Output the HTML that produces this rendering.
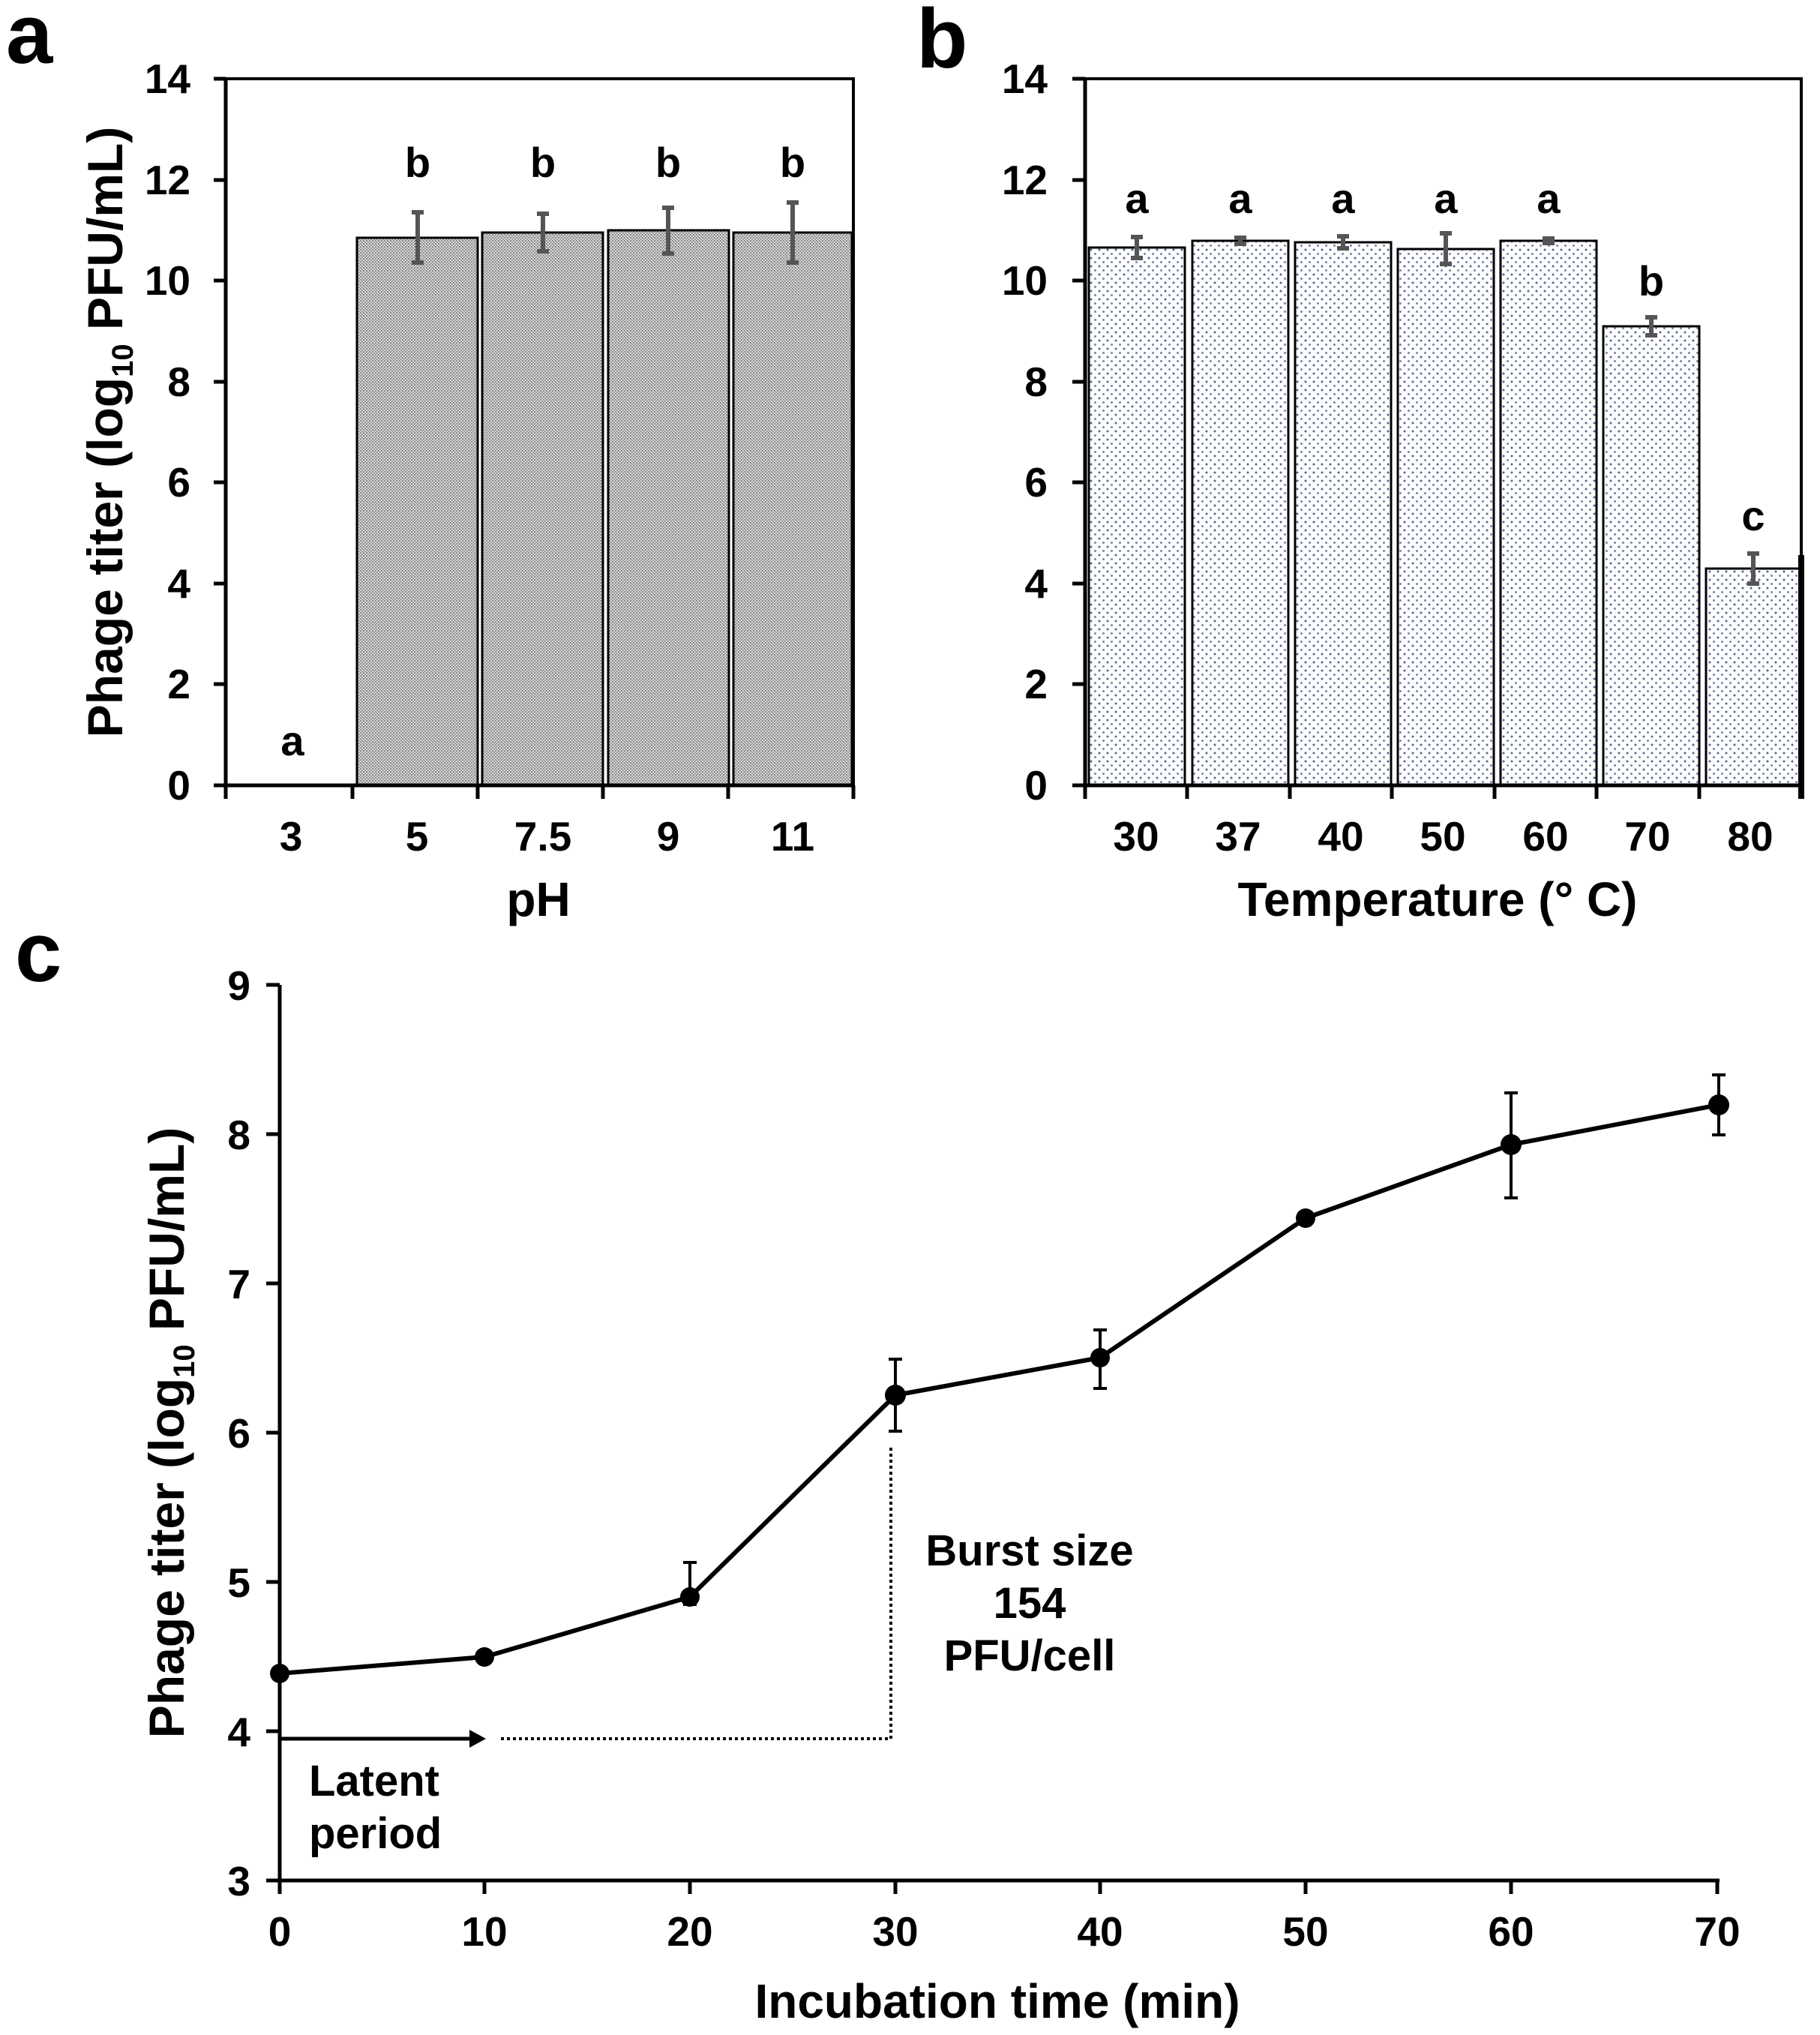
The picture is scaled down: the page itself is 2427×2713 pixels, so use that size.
<!DOCTYPE html>
<html><head><meta charset="utf-8"><style>html,body{margin:0;padding:0;background:#fff}svg{display:block}text{font-family:"Liberation Sans",Arial,sans-serif;font-weight:bold;fill:#000}</style></head>
<body>
<svg width="2427" height="2713" viewBox="0 0 2427 2713" xmlns="http://www.w3.org/2000/svg">
<defs>
<pattern id="pg" width="4" height="4" patternUnits="userSpaceOnUse"><rect width="4" height="4" fill="#d6d6d6"/><rect x="0" y="0" width="2" height="2" fill="#8a8a8a"/><rect x="2" y="2" width="2" height="2" fill="#9a9a9a"/></pattern>
<pattern id="pb" width="11" height="11" patternUnits="userSpaceOnUse"><rect width="11" height="11" fill="#fdfdff"/><circle cx="3" cy="3" r="1.5" fill="#56688f"/><circle cx="8.5" cy="8.5" r="1.5" fill="#7888a8"/></pattern>
</defs>

<!-- Panel a -->
<text x="8" y="84" font-size="112">a</text>
<rect x="301" y="105" width="837" height="942" fill="none" stroke="#000" stroke-width="4"/>
<g fill="url(#pg)" stroke="#000" stroke-width="3">
<rect x="476" y="317" width="161" height="730"/>
<rect x="643" y="310" width="161" height="737"/>
<rect x="811" y="307" width="161" height="740"/>
<rect x="978" y="310" width="158" height="737"/>
</g>
<g stroke="#000" stroke-width="5">
<line x1="285" y1="1047" x2="1138" y2="1047"/>
<line x1="301" y1="105" x2="301" y2="1047"/>
<line x1="301" y1="1047" x2="301" y2="1065"/><line x1="470" y1="1047" x2="470" y2="1065"/><line x1="637" y1="1047" x2="637" y2="1065"/><line x1="804" y1="1047" x2="804" y2="1065"/><line x1="971" y1="1047" x2="971" y2="1065"/><line x1="1138" y1="1047" x2="1138" y2="1065"/>
<line x1="285" y1="105" x2="301" y2="105"/><line x1="285" y1="240" x2="301" y2="240"/><line x1="285" y1="374" x2="301" y2="374"/><line x1="285" y1="509" x2="301" y2="509"/><line x1="285" y1="643" x2="301" y2="643"/><line x1="285" y1="778" x2="301" y2="778"/><line x1="285" y1="912" x2="301" y2="912"/>
</g>
<g stroke="#555" stroke-width="6">
<line x1="557" y1="283" x2="557" y2="350"/><line x1="549" y1="283" x2="565" y2="283"/><line x1="549" y1="350" x2="565" y2="350"/>
<line x1="724" y1="285" x2="724" y2="335"/><line x1="716" y1="285" x2="732" y2="285"/><line x1="716" y1="335" x2="732" y2="335"/>
<line x1="891" y1="277" x2="891" y2="338"/><line x1="883" y1="277" x2="899" y2="277"/><line x1="883" y1="338" x2="899" y2="338"/>
<line x1="1057" y1="270" x2="1057" y2="350"/><line x1="1049" y1="270" x2="1065" y2="270"/><line x1="1049" y1="350" x2="1065" y2="350"/>
</g>
<g font-size="55" text-anchor="end">
<text x="254" y="1066">0</text><text x="254" y="931">2</text><text x="254" y="797">4</text><text x="254" y="662">6</text><text x="254" y="528">8</text><text x="254" y="393">10</text><text x="254" y="259">12</text><text x="254" y="124">14</text>
</g>
<g font-size="55" text-anchor="middle">
<text x="388" y="1134">3</text><text x="556" y="1134">5</text><text x="724" y="1134">7.5</text><text x="891" y="1134">9</text><text x="1057" y="1134">11</text>
<text x="718" y="1221" font-size="64">pH</text>
</g>
<g font-size="56" text-anchor="middle">
<text x="390" y="1007">a</text><text x="557" y="236">b</text><text x="724" y="236">b</text><text x="891" y="236">b</text><text x="1057" y="236">b</text>
</g>
<text transform="translate(163,576) rotate(-90)" font-size="66" text-anchor="middle">Phage titer (log<tspan font-size="40" dy="14">10</tspan><tspan dy="-14"> PFU/mL)</tspan></text>

<!-- Panel b -->
<text x="1222" y="90" font-size="112">b</text>
<rect x="1447" y="105" width="955" height="942" fill="none" stroke="#000" stroke-width="4"/>
<g fill="url(#pb)" stroke="#000" stroke-width="3">
<rect x="1452" y="330" width="128" height="717"/>
<rect x="1590" y="321" width="128" height="726"/>
<rect x="1727" y="323" width="128" height="724"/>
<rect x="1864" y="332" width="128" height="715"/>
<rect x="2001" y="321" width="128" height="726"/>
<rect x="2138" y="435" width="128" height="612"/>
<rect x="2275" y="758" width="126" height="289"/>
</g>
<g stroke="#000" stroke-width="5">
<line x1="1430" y1="1047" x2="2402" y2="1047"/>
<line x1="1447" y1="105" x2="1447" y2="1047"/>
<line x1="2402" y1="740" x2="2402" y2="1065" stroke-width="8"/>
<line x1="1447" y1="1047" x2="1447" y2="1065"/><line x1="1583" y1="1047" x2="1583" y2="1065"/><line x1="1720" y1="1047" x2="1720" y2="1065"/><line x1="1856" y1="1047" x2="1856" y2="1065"/><line x1="1993" y1="1047" x2="1993" y2="1065"/><line x1="2129" y1="1047" x2="2129" y2="1065"/><line x1="2266" y1="1047" x2="2266" y2="1065"/>
<line x1="1430" y1="105" x2="1447" y2="105"/><line x1="1430" y1="240" x2="1447" y2="240"/><line x1="1430" y1="374" x2="1447" y2="374"/><line x1="1430" y1="509" x2="1447" y2="509"/><line x1="1430" y1="643" x2="1447" y2="643"/><line x1="1430" y1="778" x2="1447" y2="778"/><line x1="1430" y1="912" x2="1447" y2="912"/>
</g>
<g stroke="#555" stroke-width="6">
<line x1="1516" y1="316" x2="1516" y2="344"/><line x1="1508" y1="316" x2="1524" y2="316"/><line x1="1508" y1="344" x2="1524" y2="344"/>
<line x1="1654" y1="317" x2="1654" y2="325"/><line x1="1646" y1="317" x2="1662" y2="317"/><line x1="1646" y1="325" x2="1662" y2="325"/>
<line x1="1791" y1="315" x2="1791" y2="331"/><line x1="1783" y1="315" x2="1799" y2="315"/><line x1="1783" y1="331" x2="1799" y2="331"/>
<line x1="1928" y1="311" x2="1928" y2="352"/><line x1="1920" y1="311" x2="1936" y2="311"/><line x1="1920" y1="352" x2="1936" y2="352"/>
<line x1="2065" y1="318" x2="2065" y2="324"/><line x1="2057" y1="318" x2="2073" y2="318"/><line x1="2057" y1="324" x2="2073" y2="324"/>
<line x1="2202" y1="423" x2="2202" y2="447"/><line x1="2194" y1="423" x2="2210" y2="423"/><line x1="2194" y1="447" x2="2210" y2="447"/>
<line x1="2338" y1="738" x2="2338" y2="778"/><line x1="2330" y1="738" x2="2346" y2="738"/><line x1="2330" y1="778" x2="2346" y2="778"/>
</g>
<g font-size="55" text-anchor="end">
<text x="1397" y="1066">0</text><text x="1397" y="931">2</text><text x="1397" y="797">4</text><text x="1397" y="662">6</text><text x="1397" y="528">8</text><text x="1397" y="393">10</text><text x="1397" y="259">12</text><text x="1397" y="124">14</text>
</g>
<g font-size="55" text-anchor="middle">
<text x="1515" y="1134">30</text><text x="1651" y="1134">37</text><text x="1788" y="1134">40</text><text x="1924" y="1134">50</text><text x="2061" y="1134">60</text><text x="2197" y="1134">70</text><text x="2334" y="1134">80</text>
<text x="1917" y="1221" font-size="64">Temperature (° C)</text>
</g>
<g font-size="56" text-anchor="middle">
<text x="1516" y="284">a</text><text x="1654" y="284">a</text><text x="1791" y="284">a</text><text x="1928" y="284">a</text><text x="2065" y="284">a</text><text x="2202" y="394">b</text><text x="2338" y="707">c</text>
</g>

<!-- Panel c -->
<text x="20" y="1308" font-size="112">c</text>
<g stroke="#000" stroke-width="5">
<line x1="373" y1="1313" x2="373" y2="2525"/>
<line x1="355" y1="2507" x2="2293" y2="2507"/>
<line x1="355" y1="1313" x2="373" y2="1313"/><line x1="355" y1="1512" x2="373" y2="1512"/><line x1="355" y1="1711" x2="373" y2="1711"/><line x1="355" y1="1910" x2="373" y2="1910"/><line x1="355" y1="2109" x2="373" y2="2109"/><line x1="355" y1="2308" x2="373" y2="2308"/>
<line x1="646" y1="2507" x2="646" y2="2525"/><line x1="920" y1="2507" x2="920" y2="2525"/><line x1="1194" y1="2507" x2="1194" y2="2525"/><line x1="1467" y1="2507" x2="1467" y2="2525"/><line x1="1741" y1="2507" x2="1741" y2="2525"/><line x1="2015" y1="2507" x2="2015" y2="2525"/><line x1="2290" y1="2507" x2="2290" y2="2525"/>
</g>
<g font-size="55" text-anchor="end">
<text x="334" y="2527">3</text><text x="334" y="2328">4</text><text x="334" y="2129">5</text><text x="334" y="1930">6</text><text x="334" y="1731">7</text><text x="334" y="1532">8</text><text x="334" y="1333">9</text>
</g>
<g font-size="55" text-anchor="middle">
<text x="373" y="2594">0</text><text x="646" y="2594">10</text><text x="920" y="2594">20</text><text x="1194" y="2594">30</text><text x="1467" y="2594">40</text><text x="1741" y="2594">50</text><text x="2015" y="2594">60</text><text x="2290" y="2594">70</text>
<text x="1330" y="2690" font-size="64">Incubation time (min)</text>
</g>
<text transform="translate(245,1910) rotate(-90)" font-size="66" text-anchor="middle">Phage titer (log<tspan font-size="40" dy="14">10</tspan><tspan dy="-14"> PFU/mL)</tspan></text>
<g stroke="#000" stroke-width="4" stroke-dasharray="4,4" fill="none">
<line x1="668" y1="2318" x2="1188" y2="2318"/>
<line x1="1188" y1="1930" x2="1188" y2="2318"/>
</g>
<line x1="373" y1="2318" x2="628" y2="2318" stroke="#000" stroke-width="5"/>
<polygon points="648,2318 626,2306 626,2330" fill="#000"/>
<g font-size="58">
<text x="412" y="2394">Latent</text><text x="412" y="2464">period</text>
</g>
<g font-size="58" text-anchor="middle">
<text x="1373" y="2087">Burst size</text><text x="1373" y="2157">154</text><text x="1373" y="2227">PFU/cell</text>
</g>
<g stroke="#000" stroke-width="4">
<line x1="373" y1="2132" x2="373" y2="2200"/>
<line x1="920" y1="2083" x2="920" y2="2139"/><line x1="911" y1="2083" x2="929" y2="2083"/><line x1="911" y1="2139" x2="929" y2="2139"/>
<line x1="1194" y1="1812" x2="1194" y2="1908"/><line x1="1185" y1="1812" x2="1203" y2="1812"/><line x1="1185" y1="1908" x2="1203" y2="1908"/>
<line x1="1467" y1="1773" x2="1467" y2="1851"/><line x1="1458" y1="1773" x2="1476" y2="1773"/><line x1="1458" y1="1851" x2="1476" y2="1851"/>
<line x1="2015" y1="1457" x2="2015" y2="1597"/><line x1="2006" y1="1457" x2="2024" y2="1457"/><line x1="2006" y1="1597" x2="2024" y2="1597"/>
<line x1="2292" y1="1433" x2="2292" y2="1513"/><line x1="2283" y1="1433" x2="2301" y2="1433"/><line x1="2283" y1="1513" x2="2301" y2="1513"/>
</g>
<polyline points="373,2231 646,2209 920,2129 1194,1860 1467,1810 1741,1624 2015,1526 2292,1473" fill="none" stroke="#000" stroke-width="6" stroke-linejoin="round"/>
<g fill="#000">
<circle cx="373" cy="2231" r="13"/><circle cx="646" cy="2209" r="13"/><circle cx="920" cy="2129" r="13"/><circle cx="1194" cy="1860" r="14"/><circle cx="1467" cy="1810" r="13"/><circle cx="1741" cy="1624" r="13"/><circle cx="2015" cy="1526" r="14"/><circle cx="2292" cy="1473" r="14"/>
</g>
</svg>
</body></html>
